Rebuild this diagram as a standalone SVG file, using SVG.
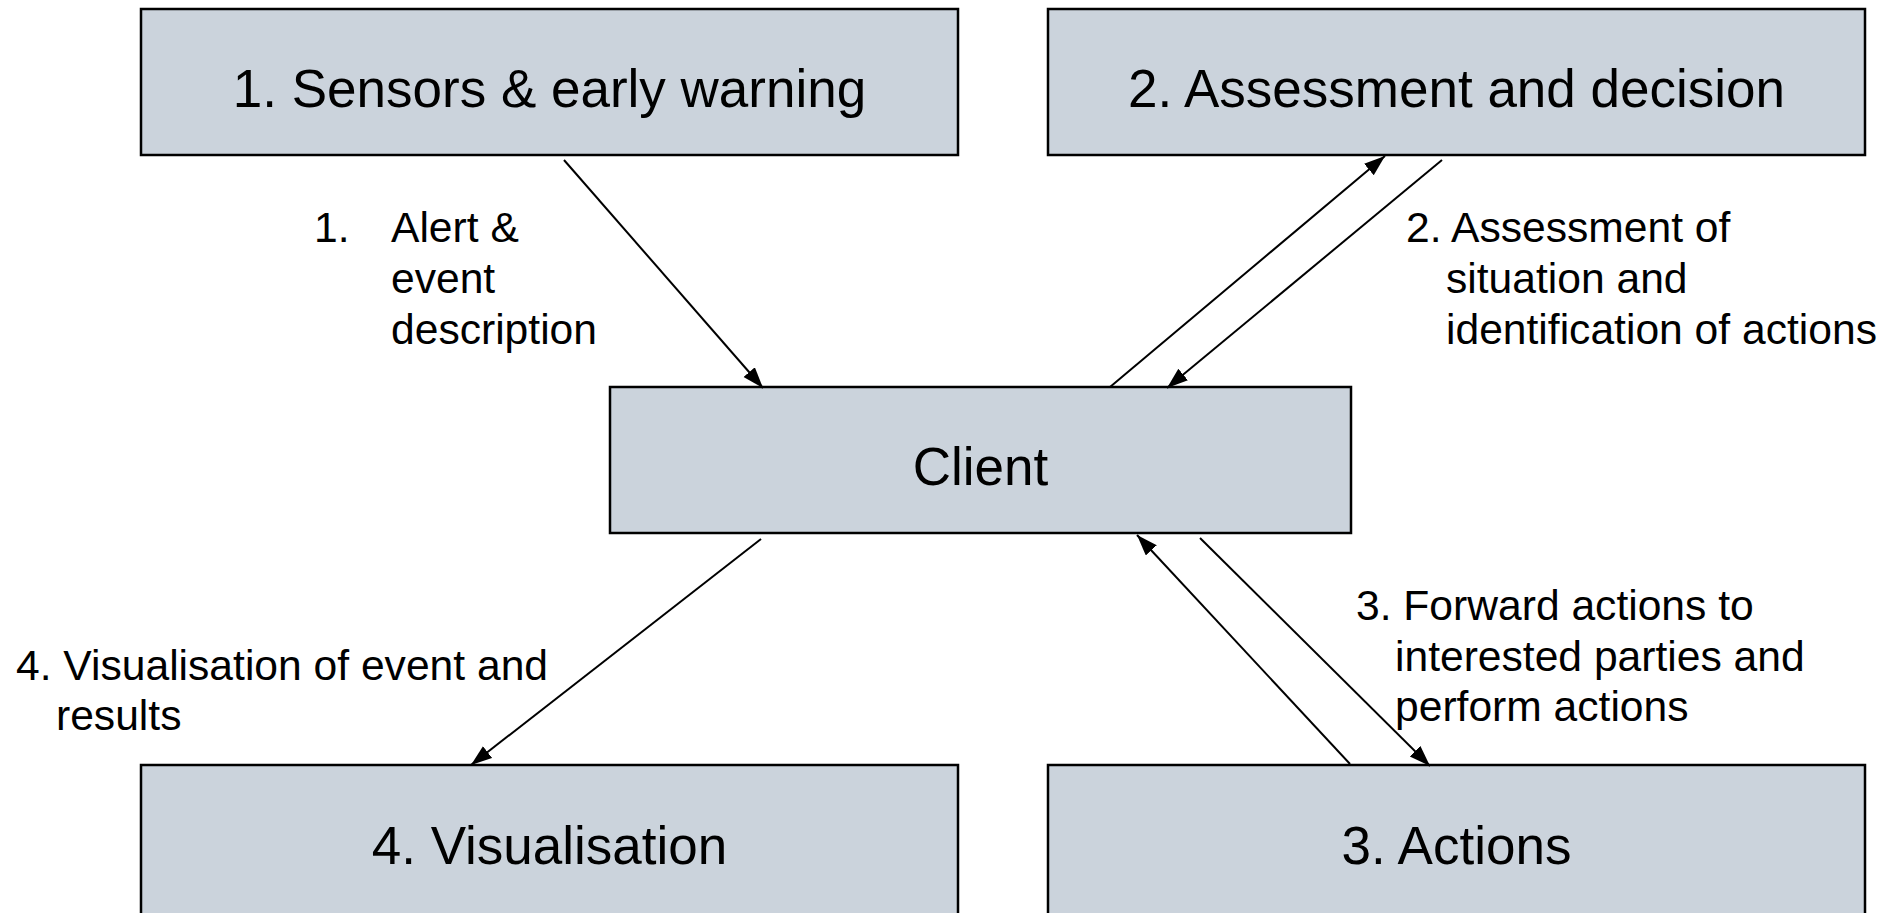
<svg xmlns="http://www.w3.org/2000/svg" width="1899" height="913" viewBox="0 0 1899 913">
<style>
.box{fill:#cbd3dc;stroke:#000;stroke-width:2.5}
.nt{font-family:"Liberation Sans",Arial,sans-serif;font-size:53px;fill:#000;text-anchor:middle}
.lt{font-family:"Liberation Sans",Arial,sans-serif;font-size:42.6px;fill:#000}
.cn{stroke:#000;stroke-width:2;fill:none;marker-end:url(#ah)}
</style>
<defs>
<marker id="ah" markerUnits="userSpaceOnUse" markerWidth="24" markerHeight="18" refX="21" refY="7.5" orient="auto">
<path d="M0,0 L21,7.5 L0,15 z" fill="#000"/>
</marker>
</defs>
<rect width="1899" height="913" fill="#fff"/>
<g id="node-sensors">
<rect class="box" x="141" y="9" width="817" height="146"/>
<text class="nt" x="549.5" y="107">1. Sensors &amp; early warning</text>
</g>
<g id="node-assessment">
<rect class="box" x="1048" y="9" width="817" height="146"/>
<text class="nt" x="1456.5" y="107">2. Assessment and decision</text>
</g>
<g id="node-client">
<rect class="box" x="610" y="387" width="741" height="146"/>
<text class="nt" x="980.5" y="485">Client</text>
</g>
<g id="node-visualisation">
<rect class="box" x="141" y="765" width="817" height="160"/>
<text class="nt" x="549.5" y="864">4. Visualisation</text>
</g>
<g id="node-actions">
<rect class="box" x="1048" y="765" width="817" height="160"/>
<text class="nt" x="1456.5" y="864">3. Actions</text>
</g>
<g id="connectors">
<line class="cn" x1="564" y1="160" x2="763" y2="388"/>
<line class="cn" x1="1110" y1="387" x2="1385" y2="156"/>
<line class="cn" x1="1442" y1="160" x2="1167" y2="388"/>
<line class="cn" x1="1350" y1="764" x2="1137" y2="535"/>
<line class="cn" x1="1200" y1="538" x2="1430" y2="766"/>
<line class="cn" x1="761" y1="539" x2="471" y2="765"/>
</g>
<g id="labels">
<text class="lt" x="314" y="242">1.</text>
<text class="lt" x="391" y="242">Alert &amp;</text>
<text class="lt" x="391" y="293">event</text>
<text class="lt" x="391" y="344">description</text>
<text class="lt" x="1406" y="242">2. Assessment of</text>
<text class="lt" x="1446" y="293">situation and</text>
<text class="lt" x="1446" y="344">identification of actions</text>
<text class="lt" x="1356" y="620">3. Forward actions to</text>
<text class="lt" x="1395" y="671">interested parties and</text>
<text class="lt" x="1395" y="721">perform actions</text>
<text class="lt" x="16" y="680">4. Visualisation of event and</text>
<text class="lt" x="56" y="730">results</text>
</g>
</svg>
